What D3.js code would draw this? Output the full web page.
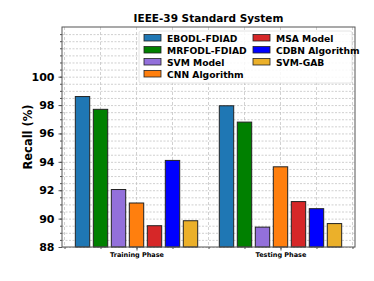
<!DOCTYPE html>
<html>
<head>
<meta charset="utf-8">
<script src="https://cdn.jsdelivr.net/npm/d3@7"></script>
<style>
  body { margin: 0; background: #fff; }
  text { font-family: "DejaVu Sans", sans-serif; font-weight: bold; }
</style>
</head>
<body>
<div id="chart"></div>
<script>
// data
const phases = ["Training Phase", "Testing Phase"];
const models = ["EBODL-FDIAD", "MRFODL-FDIAD", "SVM Model", "CNN Algorithm", "MSA Model", "CDBN Algorithm", "SVM-GAB"];
const training = [98.6, 97.7, 92.05, 91.1, 89.5, 94.1, 89.85];
const testing = [97.95, 96.8, 89.4, 93.65, 91.2, 90.7, 89.65];
const yTicks = [88, 90, 92, 94, 96, 98, 100];
const colors = ["#1f77b4", "#008000", "#9370db", "#ff7f0e", "#d62728", "#0000ff", "#ebb02a"];

const W = 374, H = 281;
const mLeft = 62, mRight = 355, mTop = 27, mBottom = 247;

const svg = d3.select("#chart").append("svg")
  .attr("width", W).attr("height", H);

// scales
const x = d3.scaleLinear().domain([-0.5175, 1.5175]).range([mLeft, mRight]);
const y = d3.scaleLinear().domain([88, 103.5]).range([mBottom, mTop]);

const barW = 0.1, step = 0.125;

// grid (minor + major, dashed)
const yMinor = d3.range(88, 103.5, 0.5);
svg.append("g").selectAll("line").data(yMinor).enter().append("line")
  .attr("x1", mLeft).attr("x2", mRight)
  .attr("y1", d => y(d) + 0.5).attr("y2", d => y(d) + 0.5)
  .attr("stroke", "#bbb").attr("stroke-width", 0.7)
  .attr("stroke-dasharray", "2,1.5");

const xMinor = d3.range(-0.5, 1.51, 0.25);
svg.append("g").selectAll("line").data(xMinor).enter().append("line")
  .attr("x1", d => x(d)).attr("x2", d => x(d))
  .attr("y1", mTop).attr("y2", mBottom)
  .attr("stroke", "#bdbdbd").attr("stroke-width", 0.7)
  .attr("stroke-dasharray", "3,2");

// bars
const series = [training, testing];
series.forEach((vals, gi) => {
  svg.append("g").selectAll("rect").data(vals).enter().append("rect")
    .attr("x", (d, i) => x(gi + (i - 3) * step - barW / 2))
    .attr("width", x(barW) - x(0))
    .attr("y", d => y(d))
    .attr("height", d => y(88) - y(d))
    .attr("fill", (d, i) => colors[i])
    .attr("stroke", "#222").attr("stroke-width", 1);
});

// axes
const yAxis = svg.append("g").attr("transform", `translate(${mLeft},0)`)
  .call(d3.axisLeft(y).tickValues(yTicks).tickSize(3.5).tickFormat(d3.format("d")));
yAxis.selectAll("text").attr("font-size", 11).attr("fill", "#000").attr("dx", "-1");
yAxis.select(".domain").remove();

svg.append("g").attr("transform", `translate(${mLeft},0)`)
  .call(d3.axisLeft(y).tickValues(yMinor).tickSize(2).tickFormat(""))
  .select(".domain").remove();

const xAxis = svg.append("g").attr("transform", `translate(0,${mBottom})`)
  .call(d3.axisBottom(x).tickValues([0, 1]).tickSize(3.5).tickFormat((d, i) => phases[i]));
xAxis.selectAll("text").attr("font-size", 6.5).attr("fill", "#000").attr("dy", "0.55em");
xAxis.select(".domain").remove();

svg.append("g").attr("transform", `translate(0,${mBottom})`)
  .call(d3.axisBottom(x).tickValues(xMinor).tickSize(2).tickFormat(""))
  .select(".domain").remove();

svg.selectAll(".tick line").attr("stroke", "#555");

// frame
svg.append("rect")
  .attr("x", mLeft).attr("y", mTop)
  .attr("width", mRight - mLeft).attr("height", mBottom - mTop)
  .attr("fill", "none").attr("stroke", "#555").attr("stroke-width", 1);

// title and y label
svg.append("text").attr("x", (mLeft + mRight) / 2).attr("y", 22)
  .attr("text-anchor", "middle").attr("font-size", 10.5).text("IEEE-39 Standard System");

svg.append("text")
  .attr("transform", `translate(32,${(mTop + mBottom) / 2}) rotate(-90)`)
  .attr("text-anchor", "middle").attr("font-size", 11.5).text("Recall (%)");

// legend
const lg = svg.append("g");
lg.append("rect").attr("x", 139).attr("y", 31).attr("width", 213).attr("height", 52)
  .attr("rx", 2).attr("fill", "#fff").attr("fill-opacity", 0.85)
  .attr("stroke", "#ddd").attr("stroke-width", 0.8);
models.forEach((m, i) => {
  const col = i < 4 ? 0 : 1;
  const row = i < 4 ? i : i - 4;
  const lx = col === 0 ? 144 : 253;
  const ly = 38 + row * 12;
  lg.append("rect").attr("x", lx).attr("y", ly - 3.5).attr("width", 17).attr("height", 6.5)
    .attr("fill", colors[i]).attr("stroke", "#222").attr("stroke-width", 0.8);
  lg.append("text").attr("x", lx + 23).attr("y", ly + 3.5)
    .attr("font-size", 9.2).text(m);
});
</script>
</body>
</html>
